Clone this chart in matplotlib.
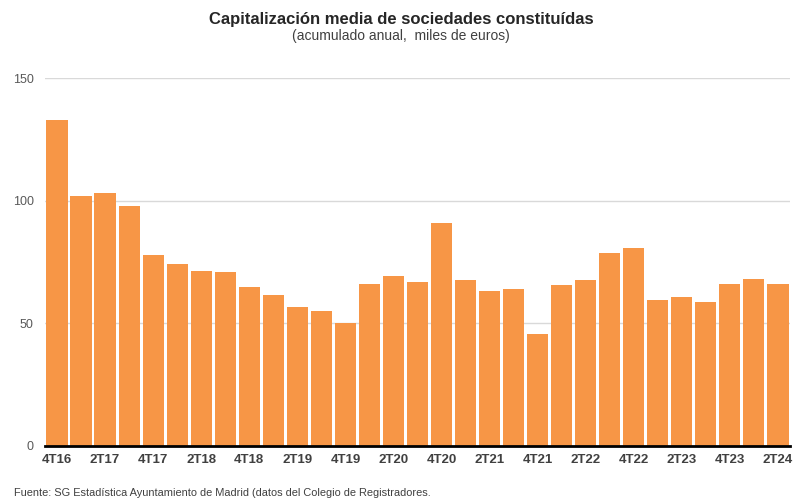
# Capitalización media de sociedades constituidas - bar chart by quarter

import matplotlib.pyplot as plt

plt.rcParams['font.family'] = ['Liberation Sans', 'DejaVu Sans']

quarters = ['4T16', '1T17', '2T17', '3T17', '4T17', '1T18', '2T18', '3T18',
            '4T18', '1T19', '2T19', '3T19', '4T19', '1T20', '2T20', '3T20',
            '4T20', '1T21', '2T21', '3T21', '4T21', '1T22', '2T22', '3T22',
            '4T22', '1T23', '2T23', '3T23', '4T23', '1T24', '2T24']
capital = [132.9, 101.9, 103.3, 97.8, 77.9, 74.2, 71.3, 70.9,
           64.8, 61.6, 56.7, 55.0, 50.1, 66.0, 69.3, 66.9,
           90.8, 67.7, 63.3, 63.9, 45.5, 65.5, 67.7, 78.8,
           80.9, 59.5, 60.6, 58.7, 66.2, 68.2, 66.2]
yticks = [0, 50, 100, 150]

bar_color = '#F79646'
text_gray = '#595959'

fig = plt.figure(figsize=(8.02, 5.01), dpi=100)
ax = fig.add_axes([0.0561, 0.1098, 0.9289, 0.7345])

x = list(range(len(quarters)))
ax.bar(x, capital, width=0.88, color=bar_color, zorder=2)

ax.set_xlim(-0.5, len(quarters) - 0.5)
ax.set_ylim(0, 150)

ax.set_yticks(yticks)
ax.set_yticklabels([str(v) for v in yticks], fontsize=9, color=text_gray)
ax.tick_params(axis='y', length=0, pad=8)
ax.yaxis.grid(True, color='#D9D9D9', linewidth=1, zorder=0)
ax.set_axisbelow(True)

ax.set_xticks(x[::2])
ax.set_xticklabels(quarters[::2], fontsize=9.5, fontweight='bold', color='#404040')
ax.tick_params(axis='x', length=0, pad=6)

for side in ['top', 'right', 'left']:
    ax.spines[side].set_visible(False)
ax.spines['bottom'].set_color('black')
ax.spines['bottom'].set_linewidth(2)
ax.spines['bottom'].set_zorder(3)

fig.text(0.5, 0.962, 'Capitalización media de sociedades constituídas',
         ha='center', va='center', fontsize=12, fontweight='bold', color='#262626')
fig.text(0.5, 0.928, '(acumulado anual,  miles de euros)',
         ha='center', va='center', fontsize=10, color='#404040')
fig.text(0.017, 0.015, 'Fuente: SG Estadística Ayuntamiento de Madrid (datos del Colegio de Registradores.',
         ha='left', va='center', fontsize=7.9, color='#404040')

fig.savefig('out.png', dpi=100)
